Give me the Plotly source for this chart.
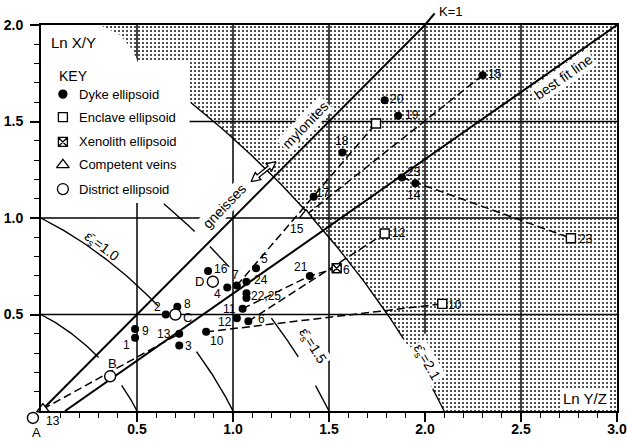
import numpy as np
import plotly.graph_objects as go

# ---------------- data ----------------
dyke_id = ['15', '20', '19', '18', '17', '23', '14', '16', '5', '7', '4', '24',
           '22,25', '', '11', '12', '6', '10', '21', '13', '3', '2', '8', '9', '1']
dyke_x = [2.30, 1.79, 1.86, 1.57, 1.42, 1.88, 1.95, 0.87, 1.12, 1.02, 0.97, 1.07,
          1.07, 1.07, 1.05, 1.02, 1.08, 0.86, 1.40, 0.72, 0.72, 0.65, 0.71, 0.49, 0.49]
dyke_y = [1.74, 1.61, 1.53, 1.34, 1.11, 1.21, 1.18, 0.725, 0.74, 0.65, 0.64, 0.67,
          0.61, 0.585, 0.53, 0.48, 0.465, 0.41, 0.70, 0.40, 0.34, 0.50, 0.54, 0.425, 0.38]

enclave_id = ['', '12', '10', '23']
enclave_x = [1.745, 1.79, 2.09, 2.76]
enclave_y = [1.49, 0.92, 0.555, 0.895]

xeno_id = ['6']
xeno_x = [1.54]
xeno_y = [0.74]

vein_id = ['15', '13']
vein_x = [1.38, 0.01]
vein_y = [1.015, 0.01]

district_id = ['A', 'B', 'C', 'D']
district_x = [-0.042, 0.36, 0.70, 0.895]
district_y = [-0.036, 0.18, 0.50, 0.67]

best_fit_x = [0.125, 3.0]
best_fit_y = [0.0, 2.0]

es_values = [0.5, 1.0, 1.5, 2.1]

x_range = [0, 3]
y_range = [0, 2]
x_tickvals = [0.5, 1.0, 1.5, 2.0, 2.5, 3.0]
x_ticktext = ['0.5', '1.0', '1.5', '2.0', '2.5', '3.0']
y_tickvals = [0.5, 1.0, 1.5, 2.0]
y_ticktext = ['0.5', '1.0', '1.5', '2.0']

# deformation paths (pairs of ellipsoids joined by dashed lines)
paths = [
    [(vein_x[1], vein_y[1]), (dyke_x[19], dyke_y[19])],                 # 13
    [(dyke_x[9], dyke_y[9]), (enclave_x[0], enclave_y[0])],             # 7 -> enclave
    [(dyke_x[0], dyke_y[0]), (vein_x[0], vein_y[0])],                   # 15
    [(dyke_x[5], dyke_y[5]), (enclave_x[3], enclave_y[3])],             # 23
    [(dyke_x[14], dyke_y[14]), (dyke_x[18], dyke_y[18]), (xeno_x[0], xeno_y[0])],
    [(dyke_x[16], dyke_y[16]), (enclave_x[1], enclave_y[1])],           # 6 -> 12
    [(dyke_x[17], dyke_y[17]), (enclave_x[2], enclave_y[2])],           # 10
]

# ---------------- styling / layout ----------------
FONT = 'Liberation Sans'
PLOT_W, PLOT_H = 576, 386   # plot-area size in px
# label offsets (pixels: dx right, dy down) for each dyke label
dyke_off = [(12, -1), (12, -1), (14, -1), (0, -11), (9, -4), (12, -5), (-1, 12),
            (13, -2), (8, -9), (-1, -11), (-10, 7), (15, -2), (20, 3), (0, 0),
            (-13, 0), (-12, 4), (13, -2), (11, 9), (-9, -9), (-15, 0), (9, 1),
            (-8, -8), (10, -3), (10, 2), (-9, 7)]
enclave_off = [(0, 0), (14, 0), (13, 1), (15, 1)]
xeno_off = [(10, 2)]
vein_off = [(-9, 14), (10, 12)]
district_off = [(4, 15), (2, -13), (12, 3), (-13, 0)]


def es_curve(E, a0, a1, n=80):
    a = np.linspace(a0, a1, n)
    b = (-a + np.sqrt(np.clip(4 * E * E - 3 * a * a, 0, None))) / 2
    return a, b


def to_paper(x, y):
    return ((x - x_range[0]) / (x_range[1] - x_range[0]),
            (y - y_range[0]) / (y_range[1] - y_range[0]))


fig = go.Figure()

# stippled region (outside Es = 2.1)
E = es_values[3]
a_top = (-2 + np.sqrt(4 + 4 * (E * E - 4))) / 2
ca, cb = es_curve(E, a_top, E, 200)
px_ = list(ca) + [3.0, 3.0, a_top]
py_ = list(cb) + [0.0, 2.0, 2.0]
fig.add_trace(go.Scatter(x=px_, y=py_, mode='lines', fill='toself',
                         fillcolor='rgba(0,0,0,0)', line=dict(width=0),
                         fillpattern=dict(shape='.', size=4, solidity=0.22,
                                          fgcolor='#222222'),
                         hoverinfo='skip', showlegend=False))

# white key box
kx = [0, 0.306, 0.41, 0.47, 0.5, 0.5, 0.774, 0.774, 0]
ky = [2.0, 2.0, 1.95, 1.88, 1.82, 1.81, 1.81, 1.078, 1.078]
fig.add_trace(go.Scatter(x=kx, y=ky, mode='lines', fill='toself', fillcolor='white',
                         line=dict(width=0), hoverinfo='skip', showlegend=False))

# Es curves (with gaps for labels)
es_segments = {0.5: [(0, 0.30), (0.42, 0.5)],
               1.0: [(0, 0.61), (0.81, 1.0)],
               1.5: [(0.64, 0.80), (0.88, 0.98), (1.2, 1.34), (1.43, 1.5)],
               2.1: [(0.78, 1.89), (2.04, 2.1)]}
for Ev in es_values:
    for (a0, a1) in es_segments[Ev]:
        xa, yb = es_curve(Ev, a0, a1)
        fig.add_trace(go.Scatter(x=xa, y=yb, mode='lines',
                                 line=dict(color='black', width=1.4),
                                 hoverinfo='skip', showlegend=False))

# K = 1 line and best fit line
fig.add_trace(go.Scatter(x=[0, 2.0], y=[0, 2.0], mode='lines',
                         line=dict(color='black', width=2), showlegend=False))
fig.add_trace(go.Scatter(x=best_fit_x, y=best_fit_y, mode='lines',
                         line=dict(color='black', width=2), showlegend=False))

# dashed paths
for p in paths:
    fig.add_trace(go.Scatter(x=[q[0] for q in p], y=[q[1] for q in p], mode='lines',
                             line=dict(color='black', width=1.5, dash='8px,4px'),
                             showlegend=False))

# double arrow (gneisses / mylonites)
A = np.array([1.094, 1.188]); B = np.array([1.224, 1.292])
sx, sy = PLOT_W / 3.0, PLOT_H / 2.0
d = np.array([(B[0] - A[0]) * sx, (B[1] - A[1]) * sy])
L = np.hypot(*d); u = d / L; nrm = np.array([-u[1], u[0]])
def P(t, w):
    v = A * np.array([sx, sy]) + u * t + nrm * w
    return v[0] / sx, v[1] / sy
pts = [P(0, 0), P(9, 4.5), P(9, 1.5), P(L - 9, 1.5), P(L - 9, 4.5), P(L, 0),
       P(L - 9, -4.5), P(L - 9, -1.5), P(9, -1.5), P(9, -4.5), P(0, 0)]
fig.add_trace(go.Scatter(x=[p[0] for p in pts], y=[p[1] for p in pts], mode='lines',
                         fill='toself', fillcolor='white',
                         line=dict(color='black', width=1.3), showlegend=False))

# markers
fig.add_trace(go.Scatter(x=dyke_x, y=dyke_y, mode='markers', cliponaxis=False,
                         marker=dict(symbol='circle', size=8, color='black'),
                         showlegend=False))
fig.add_trace(go.Scatter(x=enclave_x, y=enclave_y, mode='markers', cliponaxis=False,
                         marker=dict(symbol='square', size=9, color='white',
                                     line=dict(color='black', width=1.4)),
                         showlegend=False))
fig.add_trace(go.Scatter(x=xeno_x, y=xeno_y, mode='markers', cliponaxis=False,
                         marker=dict(symbol='square-x', size=9, color='white',
                                     line=dict(color='black', width=1.4)),
                         showlegend=False))
fig.add_trace(go.Scatter(x=vein_x, y=vein_y, mode='markers', cliponaxis=False,
                         marker=dict(symbol='triangle-up', size=11, color='white',
                                     line=dict(color='black', width=1.4)),
                         showlegend=False))
inside = [i for i in range(len(district_x)) if district_x[i] >= 0 and district_y[i] >= 0]
fig.add_trace(go.Scatter(x=[district_x[i] for i in inside], y=[district_y[i] for i in inside],
                         mode='markers', cliponaxis=False,
                         marker=dict(symbol='circle', size=11, color='white',
                                     line=dict(color='black', width=1.4)),
                         showlegend=False))

annotations = []
shapes = []

# district point(s) lying just outside the axes: drawn as paper-referenced circles
for i in range(len(district_x)):
    if i in inside:
        continue
    cx, cy = to_paper(district_x[i], district_y[i])
    rx, ry = 5.5 / PLOT_W, 5.5 / PLOT_H
    shapes.append(dict(type='circle', xref='paper', yref='paper',
                       x0=cx - rx, x1=cx + rx, y0=cy - ry, y1=cy + ry,
                       fillcolor='white', line=dict(color='black', width=1.4)))
    dx, dy = district_off[i]
    annotations.append(dict(x=cx + dx / PLOT_W, y=cy - dy / PLOT_H, xref='paper',
                            yref='paper', text=district_id[i], showarrow=False,
                            xanchor='center', yanchor='middle',
                            font=dict(family=FONT, size=13, color='black')))


def label_set(ids, xs, ys, offs, size=12):
    for t, x, y, (dx, dy) in zip(ids, xs, ys, offs):
        if not t or x < 0 or y < 0:
            continue
        annotations.append(dict(x=x, y=y, text=t, showarrow=False, xshift=dx, yshift=-dy,
                                xanchor='center', yanchor='middle',
                                font=dict(family=FONT, size=size, color='black')))


label_set(dyke_id, dyke_x, dyke_y, dyke_off)
label_set(enclave_id, enclave_x, enclave_y, enclave_off)
label_set(xeno_id, xeno_x, xeno_y, xeno_off)
label_set(vein_id, vein_x, vein_y, vein_off)
label_set(district_id, district_x, district_y, district_off, size=13)

# key
key_items = [('circle', 'black', 'Dyke ellipsoid', 1.642, 8),
             ('square', 'white', 'Enclave ellipsoid', 1.523, 9),
             ('square-x', 'white', 'Xenolith ellipsoid', 1.394, 9),
             ('triangle-up', 'white', 'Competent veins', 1.275, 11),
             ('circle', 'white', 'District ellipsoid', 1.150, 11)]
for sym, col, lab, yy, sz in key_items:
    fig.add_trace(go.Scatter(x=[0.114], y=[yy], mode='markers',
                             marker=dict(symbol=sym, size=sz, color=col,
                                         line=dict(color='black', width=1.3)),
                             showlegend=False))
    annotations.append(dict(x=0.19, y=yy, text=lab, xanchor='left', yanchor='middle',
                            showarrow=False, font=dict(family=FONT, size=13, color='black')))


def ann(x, y, text, size=14, angle=0, bg=None, xanchor='center', xref='x', yref='y'):
    d_ = dict(x=x, y=y, text=text, showarrow=False, textangle=angle, xanchor=xanchor,
              yanchor='middle', xref=xref, yref=yref,
              font=dict(family=FONT, size=size, color='black'))
    if bg:
        d_['bgcolor'] = bg
    annotations.append(d_)


ann(0.04, 1.91, 'Ln X/Y', 15, xanchor='left')
ann(0.083, 1.735, 'KEY', 14, xanchor='left')
ann(2.835, 0.067, 'Ln Y/Z', 15, bg='white')
ann(0.712, 1.036, 'K=1', 13, xanchor='center', xref='paper', yref='paper')
ann(2.72, 1.73, 'best fit line', 14, angle=-35, bg='white')
ann(1.377, 1.48, 'mylonites', 14, angle=-46, bg='white')
ann(0.956, 1.06, 'gneisses', 14, angle=-46, bg='white')
ann(0.317, 0.85, 'ε\u0304<sub>s</sub>=1.0', 14, angle=37)
ann(1.413, 0.337, 'ε\u0304<sub>s</sub>=1.5', 14, angle=58, bg='white')
ann(2.01, 0.25, 'ε\u0304<sub>s</sub>=2.1', 14, angle=60, bg='white')

# grid lines as shapes
for gx in [0.5, 1.0, 1.5, 2.0, 2.5]:
    shapes.append(dict(type='line', xref='x', yref='y', x0=gx, x1=gx,
                       y0=0.4 if gx == 2.0 else 0, y1=2.0, layer='below',
                       line=dict(color='black', width=1.5)))
for gy in [0.5, 1.0, 1.5]:
    shapes.append(dict(type='line', xref='x', yref='y', x0=0, x1=3, y0=gy, y1=gy,
                       layer='below', line=dict(color='black', width=1.5)))
# K=1 line extension above the frame
shapes.append(dict(type='line', xref='paper', yref='paper', x0=2.0 / 3, y0=1.0,
                   x1=2.05 / 3, y1=1.03, line=dict(color='black', width=2)))

minor_x = [round(0.1 * i, 1) for i in range(1, 30)]
minor_y = [round(0.1 * i, 1) for i in range(1, 20)]
axis_common = dict(ticks='outside', ticklen=9, tickwidth=1.5, tickcolor='black',
                   showline=True, linewidth=2, linecolor='black', mirror=True,
                   showgrid=False, zeroline=False, automargin=False,
                   tickfont=dict(family=FONT, size=14, color='black', weight='bold'))
fig.update_layout(
    template='none',
    width=627, height=443,
    margin=dict(l=41, r=10, t=25, b=32),
    paper_bgcolor='white', plot_bgcolor='white',
    font=dict(family=FONT, color='black'),
    xaxis=dict(range=x_range, tickmode='array', tickvals=x_tickvals, ticktext=x_ticktext,
               ticklabelstandoff=-5,
               minor=dict(tickvals=minor_x, ticks='outside', ticklen=5, tickwidth=1.2,
                          tickcolor='black', showgrid=False), **axis_common),
    yaxis=dict(range=y_range, tickmode='array', tickvals=y_tickvals, ticktext=y_ticktext,
               ticklabelstandoff=4,
               minor=dict(tickvals=minor_y, ticks='outside', ticklen=5, tickwidth=1.2,
                          tickcolor='black', showgrid=False), **axis_common),
    annotations=annotations, shapes=shapes, showlegend=False,
)

# remove the browser's default 8px page margin so the figure fills the window exactly
fig.write_html('out.html', config={'displayModeBar': False},
               post_script="document.body.style.margin='0px';")
